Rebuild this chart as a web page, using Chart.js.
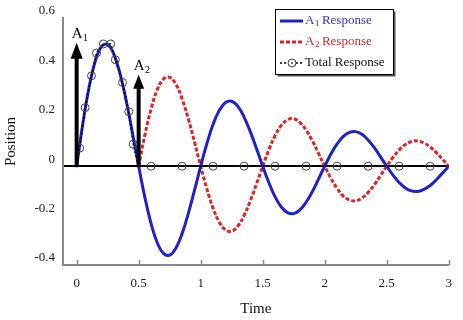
<!DOCTYPE html>
<html><head><meta charset="utf-8">
<script src="https://cdn.jsdelivr.net/npm/chart.js"></script>
<style>html,body{margin:0;padding:0;background:#fff}#wrap{width:463px;height:320px}</style>
</head><body><div id="wrap"><canvas id="c" width="463" height="320"></canvas></div>
<script>
const times = [0,0.05,0.1,0.15,0.2,0.25,0.3,0.35,0.4,0.45,
  0.5,0.55,0.6,0.65,0.7,0.75,0.8,0.85,0.9,0.95,
  1,1.05,1.1,1.15,1.2,1.25,1.3,1.35,1.4,1.45,
  1.5,1.55,1.6,1.65,1.7,1.75,1.8,1.85,1.9,1.95,
  2,2.05,2.1,2.15,2.2,2.25,2.3,2.35,2.4,2.45,
  2.5,2.55,2.6,2.65,2.7,2.75,2.8,2.85,2.9,2.95,3];
const a1Response = [0,0.173,0.319,0.425,0.484,0.493,0.454,0.374,0.264,0.134,
  0,-0.126,-0.232,-0.310,-0.353,-0.360,-0.332,-0.273,-0.192,-0.098,
  0,0.092,0.170,0.226,0.258,0.263,0.242,0.199,0.140,0.072,
  0,-0.067,-0.124,-0.165,-0.188,-0.192,-0.177,-0.146,-0.103,-0.052,
  0,0.049,0.090,0.121,0.137,0.140,0.129,0.106,0.075,0.038,
  0,-0.036,-0.066,-0.088,-0.100,-0.102,-0.094,-0.078,-0.055,-0.028,0];
const a2Response = [null,null,null,null,null,null,null,null,null,null,
  0,0.126,0.232,0.310,0.353,0.360,0.332,0.273,0.192,0.098,
  0,-0.092,-0.170,-0.226,-0.258,-0.263,-0.242,-0.199,-0.140,-0.072,
  0,0.067,0.124,0.165,0.188,0.192,0.177,0.146,0.103,0.052,
  0,-0.049,-0.090,-0.121,-0.137,-0.140,-0.129,-0.106,-0.075,-0.038,
  0,0.036,0.066,0.088,0.100,0.102,0.094,0.078,0.055,0.028,0];
const totalTimes = [0,0.024,0.068,0.12,0.16,0.215,0.275,0.312,0.37,0.42,0.456,0.5,0.6,0.85,1.1,1.35,1.6,1.85,2.1,2.35,2.6,2.85,3];
const totalResponse = [0,0.073,0.237,0.366,0.458,0.495,0.495,0.431,0.339,0.221,0.089,0,0,0,0,0,0,0,0,0,0,0,0];
const totalHasMarker = [0,1,1,1,1,1,1,1,1,1,1,0,1,1,1,1,1,1,1,1,1,1,0];
const xTickValues = [0,0.5,1,1.5,2,2.5,3];
const yTickValues = [-0.4,-0.2,0,0.2,0.4,0.6];
const arrowTimes = [0,0.5];
const arrowHeights = [0.5,0.37];
const arrowSubs = ['1','2'];
const seriesNames = ['Response','Response','Total Response'];

const BLUE = '#2121c9', RED = '#dd2323';
const SERIF = '"Liberation Serif","Times New Roman",serif';

function pts(xs, ys){ const out=[]; xs.forEach((x,i)=>{ if(ys[i]!==null) out.push({x:x,y:ys[i]}); }); return out; }

const deco = {
  id:'deco',
  afterDatasetsDraw(chart){
    const {ctx, scales:{x,y}} = chart;
    ctx.save();
    // inward tick marks on x axis
    const yb = y.getPixelForValue(-0.4);
    ctx.strokeStyle = '#888'; ctx.lineWidth = 1.5;
    xTickValues.forEach(v=>{ const px = Math.round(x.getPixelForValue(v))+0.5; ctx.beginPath(); ctx.moveTo(px,yb); ctx.lineTo(px,yb-5); ctx.stroke(); });
    // arrows
    const y0 = y.getPixelForValue(0);
    arrowTimes.forEach((t,i)=>{
      const px = x.getPixelForValue(t), tip = y.getPixelForValue(arrowHeights[i]);
      const hh = i===0?16:14, hw = i===0?6:5.5;
      ctx.fillStyle = '#000';
      ctx.fillRect(px-2, tip+hh-1, 4, y0-(tip+hh-1)+1);
      ctx.beginPath(); ctx.moveTo(px,tip); ctx.lineTo(px+hw,tip+hh); ctx.lineTo(px-hw,tip+hh); ctx.closePath(); ctx.fill();
      ctx.font = '15px '+SERIF; ctx.textBaseline='alphabetic'; ctx.textAlign='left';
      const tx = px-5, ty = tip-5;
      ctx.fillText('A', tx, ty);
      const w = ctx.measureText('A').width;
      ctx.font = '10px '+SERIF; ctx.fillText(arrowSubs[i], tx+w+0.5, ty+3);
    });
    ctx.restore();
  },
  afterDraw(chart){
    const ctx = chart.ctx;
    ctx.save();
    const bx=275.5, by=9.5, bw=118, bh=65;
    ctx.fillStyle='#555'; ctx.fillRect(bx+2,by+2,bw,bh);
    ctx.fillStyle='#fff'; ctx.fillRect(bx,by,bw,bh);
    ctx.strokeStyle='#000'; ctx.lineWidth=1; ctx.strokeRect(bx,by,bw,bh);
    const rows=[21,42,63];
    const ds = chart.data.datasets;
    // blue
    ctx.lineWidth=3; ctx.strokeStyle=BLUE; ctx.setLineDash([]);
    ctx.beginPath(); ctx.moveTo(280,rows[0]); ctx.lineTo(303,rows[0]); ctx.stroke();
    ctx.strokeStyle=RED; ctx.setLineDash([4,2]);
    ctx.beginPath(); ctx.moveTo(280,rows[1]); ctx.lineTo(303,rows[1]); ctx.stroke();
    ctx.strokeStyle='#000'; ctx.lineWidth=1.5; ctx.setLineDash([2,2]);
    ctx.beginPath(); ctx.moveTo(280,rows[2]); ctx.lineTo(303,rows[2]); ctx.stroke();
    ctx.setLineDash([]); ctx.lineWidth=1; ctx.strokeStyle='#444';
    ctx.fillStyle='#fff'; ctx.beginPath(); ctx.arc(292,rows[2],4,0,Math.PI*2); ctx.fill(); ctx.stroke();
    ctx.beginPath(); ctx.arc(292,rows[2],1,0,Math.PI*2); ctx.fillStyle='#444'; ctx.fill();
    ctx.textBaseline='middle'; ctx.textAlign='left';
    const cols=[ '#3434cc', '#cc2a2a', '#111'];
    for(let i=0;i<3;i++){
      let xx=305; ctx.fillStyle=cols[i];
      if(i<2){
        ctx.font='13px '+SERIF; ctx.fillText('A',xx,rows[i]); xx+=ctx.measureText('A').width;
        ctx.font='9px '+SERIF; ctx.fillText(arrowSubs[i],xx+0.5,rows[i]+3); xx+=ctx.measureText(arrowSubs[i]).width+3;
        ctx.font='13px '+SERIF; ctx.fillText(seriesNames[i],xx,rows[i]);
      } else {
        ctx.font='13px '+SERIF; ctx.fillText(seriesNames[i],xx,rows[i]);
      }
    }
    ctx.restore();
  }
};

new Chart(document.getElementById('c'), {
  type:'line',
  data:{ datasets:[
    { label:'Total Response', data:pts(totalTimes,totalResponse), borderColor:'#000', borderWidth:1.5, borderDash:[2,2], tension:0,
      pointRadius: totalHasMarker.map(m=>m?4:0), pointBorderColor:'#444', pointBackgroundColor:'rgba(0,0,0,0)', pointBorderWidth:1 },
    { label:'A1 Response', data:pts(times,a1Response), borderColor:BLUE, borderWidth:3, pointRadius:0, tension:0.4 },
    { label:'A2 Response', data:pts(times,a2Response), borderColor:RED, borderWidth:3, borderDash:[4,2], pointRadius:0, tension:0.4 }
  ]},
  options:{
    responsive:false, animation:false, devicePixelRatio:1,
    layout:{ padding:{ top:18, right:5, left:0, bottom:0 } },
    plugins:{ legend:{display:false}, tooltip:{enabled:false} },
    scales:{
      x:{ type:'linear', min:-0.11, max:3,
        afterBuildTicks: s=>{ s.ticks = xTickValues.map(v=>({value:v})); },
        afterFit: s=>{ s.height = 55; },
        ticks:{ font:{family:SERIF,size:13}, color:'#222', padding:11, maxRotation:0, callback:v=>String(v) },
        grid:{ color:'transparent', drawTicks:false },
        border:{ color:'#888', width:2 },
        title:{ display:true, text:'Time', font:{family:SERIF,size:15}, color:'#111', padding:{top:0,bottom:2} } },
      y:{ min:-0.4, max:0.6,
        afterBuildTicks: s=>{ s.ticks = yTickValues.map(v=>({value:v})); },
        afterFit: s=>{ s.width = 63; },
        ticks:{ font:{family:SERIF,size:13}, color:'#222', padding:8, labelOffset:-7, callback:v=>String(Math.round(v*10)/10) },
        grid:{ color: c=> (c.tick && Math.abs(c.tick.value)<1e-9) ? '#000' : 'transparent', lineWidth:2, drawTicks:false },
        border:{ color:'#888', width:2 },
        title:{ display:true, text:'Position', font:{family:SERIF,size:15}, color:'#111', padding:{top:2,bottom:0} } }
    }
  },
  plugins:[deco]
});
</script></body></html>
